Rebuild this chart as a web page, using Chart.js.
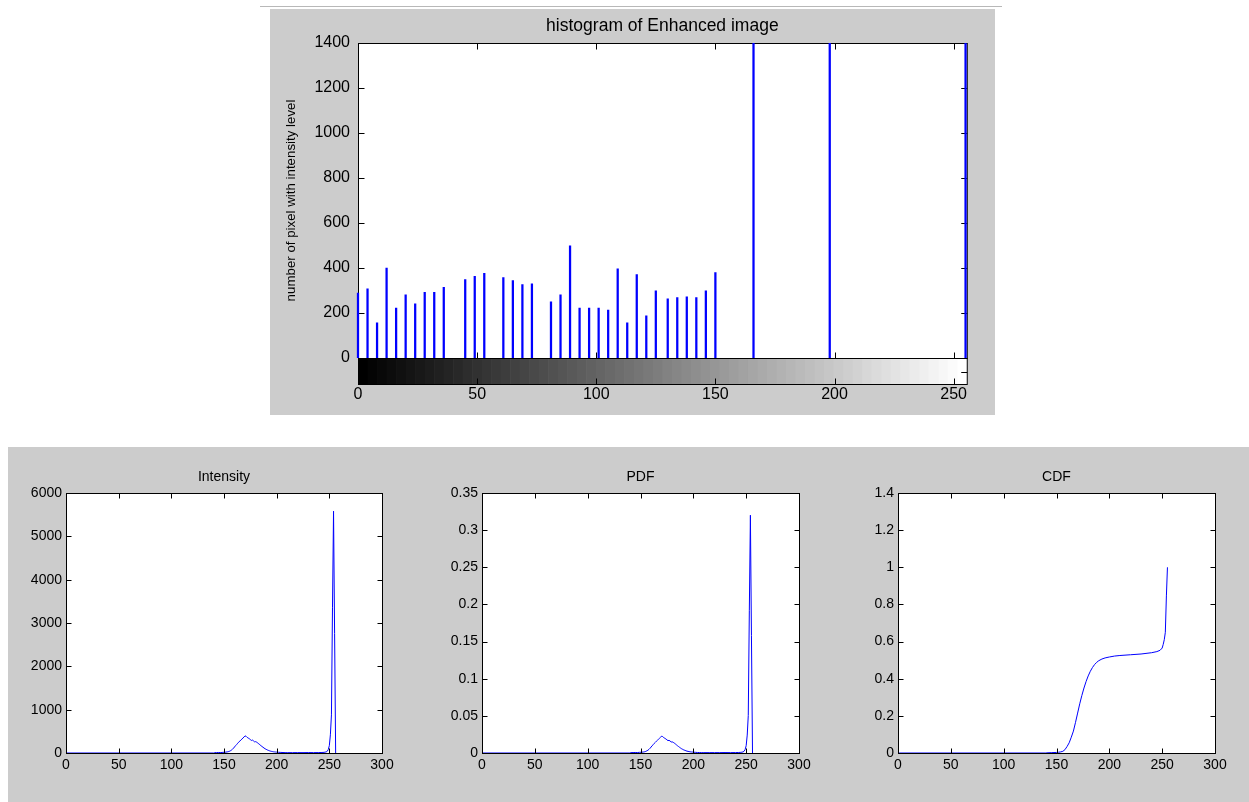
<!DOCTYPE html>
<html><head><meta charset="utf-8">
<script src="https://cdn.jsdelivr.net/npm/chart.js@4.4.1/dist/chart.umd.min.js"></script>
<style>
html,body{margin:0;padding:0;background:#fff;width:1249px;height:802px;overflow:hidden;position:relative}
.panel{position:absolute;background:#cccccc}
.topline{position:absolute;left:260px;top:6px;width:742px;height:1px;background:#b8b8b8}
canvas{position:absolute}
</style></head><body>
<div class="topline"></div>
<div class="panel" style="left:270px;top:9px;width:725px;height:406px"></div>
<div class="panel" style="left:8px;top:447px;width:1241px;height:355px"></div>
<canvas id="cHist"></canvas>
<canvas id="cInt"></canvas>
<canvas id="cPdf"></canvas>
<canvas id="cCdf"></canvas>
<script>
// ---------- data ----------
const histLevels = [0,4,8,12,16,20,24,28,32,36,45,49,53,61,65,69,73,81,85,89,93,97,101,105,109,113,117,121,125,130,134,138,142,146,150,166,198,255];
const histCounts = [288,307,156,400,222,281,241,292,292,314,348,363,376,357,344,326,330,250,281,499,222,222,222,213,396,156,371,187,299,263,268,272,268,299,380,2600,2400,3500];
const histXTicks = [0,50,100,150,200,250];
const histYTicks = [0,200,400,600,800,1000,1200,1400];

const grayLevels = [0,140,141,143,145,147,149,151,153,
  154,155,156,157,158,159,160,161,162,163,
  164,165,166,167,168,169,170,171,172,173,
  174,175,176,177,178,179,180,181,182,183,
  184,185,186,187,188,189,190,191,192,193,
  194,195,196,197,198,199,200,
  202,204,206,208,210,
  215,220,225,230,235,240,
  243,245,
  246,247,248,249,250,251,252,253,254,255,256];
const intensityCounts = [0,0,8,10,12,10,15,18,25,
  30,38,50,65,85,110,140,170,195,225,
  250,275,300,320,345,370,395,385,360,345,
  330,310,290,298,280,258,262,250,232,212,
  192,170,152,133,115,98,85,72,62,52,
  44,38,33,28,25,22,20,
  16,13,11,9,8,
  8,9,8,10,9,10,
  12,15,
  20,25,40,80,170,420,880,3350,5580,2760,0];
const pdfValues = [0,0,0.0005,0.0006,0.0007,0.0006,0.0009,0.001,0.0014,
  0.0017,0.0022,0.0029,0.0037,0.0049,0.0063,0.008,0.0098,0.0112,0.0129,
  0.0143,0.0158,0.0172,0.0184,0.0198,0.0212,0.0227,0.0221,0.0207,0.0198,
  0.0189,0.0178,0.0166,0.0171,0.0161,0.0148,0.015,0.0143,0.0133,0.0122,
  0.011,0.0098,0.0087,0.0076,0.0066,0.0056,0.0049,0.0041,0.0036,0.003,
  0.0025,0.0022,0.0019,0.0016,0.0014,0.0013,0.0011,
  0.0009,0.0007,0.0006,0.0005,0.0005,
  0.0005,0.0005,0.0005,0.0006,0.0005,0.0006,
  0.0007,0.0009,
  0.0011,0.0014,0.0023,0.0046,0.0098,0.0241,0.0505,0.1922,0.3201,0.1583,0];
const cdfLevels = [0,140,141,145,150,152,154,156,158,160,162,164,166,168,170,172,174,176,178,180,182,184,186,188,190,193,196,200,205,210,220,230,240,245,248,250,251,252,253,254,255];
const cdfValues = [0,0,0.001,0.002,0.003,0.004,0.006,0.009,0.018,0.035,0.055,0.085,0.118,0.165,0.215,0.265,0.31,0.35,0.385,0.415,0.44,0.46,0.476,0.488,0.497,0.506,0.512,0.517,0.522,0.525,0.529,0.533,0.54,0.546,0.553,0.565,0.585,0.61,0.65,0.846,1.0];

const xTicks300 = [0,50,100,150,200,250,300];
const intensityYTicks = [0,1000,2000,3000,4000,5000,6000];
const pdfYTicks = [0,0.05,0.1,0.15,0.2,0.25,0.3,0.35];
const cdfYTicks = [0,0.2,0.4,0.6,0.8,1,1.2,1.4];

const FONT = "'Liberation Sans', Arial, Helvetica, sans-serif";
const BLUE = '#0000ff';

function fmt(v){ return String(Math.round(v*10000)/10000); }

// ---------- MATLAB-like box, inward ticks, colorbar ----------
function drawBox(chart, opts){
  const {ctx, chartArea:a, scales:{x, y}} = chart;
  const L = a.left + 0.5, R = a.right + 0.5, T = a.top + 0.5, B = a.bottom + 0.5;
  const len = opts.tickLen || 5;
  ctx.save();
  ctx.strokeStyle = '#000'; ctx.lineWidth = 1;
  ctx.strokeRect(L, T, R - L, B - T);
  ctx.beginPath();
  x.ticks.forEach(t => {
    const px = Math.round(x.getPixelForValue(t.value)) + 0.5;
    ctx.moveTo(px, B); ctx.lineTo(px, B - len);
    ctx.moveTo(px, T); ctx.lineTo(px, T + len);
  });
  y.ticks.forEach(t => {
    const py = Math.round(y.getPixelForValue(t.value)) + 0.5;
    ctx.moveTo(L, py); ctx.lineTo(L + len, py);
    ctx.moveTo(R, py); ctx.lineTo(R - len, py);
  });
  ctx.stroke();
  if (opts.colorbar) {
    const h = opts.colorbar;
    const n = 64;
    for (let k = 0; k < n; k++) {
      const x0 = x.getPixelForValue(x.min + (x.max - x.min) * k / n);
      const x1 = x.getPixelForValue(x.min + (x.max - x.min) * (k + 1) / n);
      const g = Math.round(255 * k / (n - 1));
      ctx.fillStyle = `rgb(${g},${g},${g})`;
      ctx.fillRect(x0, a.bottom + 1, x1 - x0 + 0.6, h);
    }
    const CB = a.bottom + h + 0.5;
    ctx.strokeRect(L, B, R - L, CB - B);
    ctx.beginPath();
    x.ticks.forEach(t => {
      const px = Math.round(x.getPixelForValue(t.value)) + 0.5;
      ctx.moveTo(px, CB); ctx.lineTo(px, CB - len);
    });
    const my = Math.round((B + CB) / 2) + 0.5;
    ctx.moveTo(R, my); ctx.lineTo(R - len, my);
    ctx.stroke();
  }
  ctx.restore();
}
const matlabAxes = {
  id: 'matlabAxes',
  beforeDraw(chart){
    const {ctx, chartArea:a} = chart;
    ctx.save(); ctx.fillStyle = '#ffffff';
    ctx.fillRect(a.left, a.top, a.right - a.left, a.bottom - a.top);
    ctx.restore();
  },
  beforeDatasetsDraw(chart, args, opts){ if (opts.boxUnder) drawBox(chart, opts); },
  afterDatasetsDraw(chart, args, opts){ if (!opts.boxUnder) drawBox(chart, opts); }
};

// ---------- builder ----------
function build(id, cfg){
  const c = cfg.canvas, p = cfg.plot;
  const el = document.getElementById(id);
  el.width = c.R - c.L; el.height = c.B - c.T;
  el.style.left = c.L + 'px'; el.style.top = c.T + 'px';
  const tLH = cfg.titleSize * 1.2, kLH = cfg.tickSize * 1.2;
  const tPadTop = cfg.titleMid - c.T - tLH / 2;
  const tPadBot = p.T - c.T - tPadTop - tLH;
  const tickFont = {family: FONT, size: cfg.tickSize};
  return new Chart(el, {
    type: cfg.type,
    data: {datasets: [cfg.dataset]},
    options: {
      responsive: false, animation: false, events: [],
      layout: {padding: {left: 0, right: c.R - p.R, top: 0, bottom: 0}},
      plugins: {
        legend: {display: false}, tooltip: {enabled: false},
        title: {display: true, text: cfg.title, fullSize: false, color: '#000',
          font: {family: FONT, size: cfg.titleSize, weight: 'normal'},
          padding: {top: tPadTop, bottom: tPadBot}},
        matlabAxes: {colorbar: cfg.colorbar || 0, tickLen: cfg.tickLen, boxUnder: !!cfg.boxUnder}
      },
      scales: {
        x: {type: 'linear', min: cfg.xMin, max: cfg.xMax, offset: false,
          grid: {display: false, drawTicks: false}, border: {display: false},
          afterBuildTicks: s => { s.ticks = cfg.xTicks.map(v => ({value: v})); },
          afterFit: s => { s.height = c.B - p.B; },
          ticks: {padding: cfg.xLabelMid - p.B - kLH / 2, maxRotation: 0, autoSkip: false,
            color: '#000', font: tickFont, callback: v => fmt(v)}},
        y: {type: 'linear', min: cfg.yMin, max: cfg.yMax,
          grid: {display: false, drawTicks: false}, border: {display: false},
          afterBuildTicks: s => { s.ticks = cfg.yTicks.map(v => ({value: v})); },
          afterFit: s => { s.width = p.L - c.L; },
          title: cfg.yTitle ? {display: true, text: cfg.yTitle, color: '#000',
            font: {family: FONT, size: cfg.yTitleSize}, padding: {top: cfg.yTitlePad, bottom: 0}} : {display: false},
          ticks: {padding: cfg.yPad, autoSkip: false, color: '#000', font: tickFont, callback: v => fmt(v)}}
      }
    },
    plugins: [matlabAxes]
  });
}

function pts(xs, ys){ return xs.map((v, i) => ({x: v, y: ys[i]})); }
function lineSet(xs, ys){
  return {type: 'line', data: pts(xs, ys), borderColor: BLUE, borderWidth: 1,
    pointRadius: 0, tension: 0, fill: false};
}

// top histogram
build('cHist', {
  type: 'bar',
  canvas: {L: 270, T: 9, R: 995, B: 415}, plot: {L: 358, T: 43, R: 968, B: 358},
  title: 'histogram of Enhanced image', titleSize: 17.5, titleMid: 26.5,
  tickSize: 16, xLabelMid: 395, yPad: 8, tickLen: 6, boxUnder: true,
  xMin: 0, xMax: 255.5, yMin: 0, yMax: 1400, xTicks: histXTicks, yTicks: histYTicks,
  yTitle: 'number of pixel with intensity level', yTitleSize: 13.3, yTitlePad: 13.5,
  colorbar: 26,
  dataset: {data: pts(histLevels, histCounts), backgroundColor: BLUE, borderWidth: 0, barThickness: 1.6,
    clip: {left: 2, right: 2, top: 0, bottom: 0}}
});

const bottomCommon = {titleSize: 14, titleMid: 477, tickSize: 14, xLabelMid: 765, yPad: 4, tickLen: 5,
  xMin: 0, xMax: 300, xTicks: xTicks300};

build('cInt', Object.assign({}, bottomCommon, {
  type: 'line',
  canvas: {L: 8, T: 447, R: 418, B: 802}, plot: {L: 66, T: 493, R: 382, B: 753},
  title: 'Intensity', yMin: 0, yMax: 6000, yTicks: intensityYTicks,
  dataset: lineSet(grayLevels, intensityCounts)
}));
build('cPdf', Object.assign({}, bottomCommon, {
  type: 'line',
  canvas: {L: 418, T: 447, R: 835, B: 802}, plot: {L: 482, T: 493, R: 799, B: 753},
  title: 'PDF', yMin: 0, yMax: 0.35, yTicks: pdfYTicks,
  dataset: lineSet(grayLevels, pdfValues)
}));
build('cCdf', Object.assign({}, bottomCommon, {
  type: 'line',
  canvas: {L: 835, T: 447, R: 1249, B: 802}, plot: {L: 898, T: 493, R: 1215, B: 753},
  title: 'CDF', yMin: 0, yMax: 1.4, yTicks: cdfYTicks,
  dataset: lineSet(cdfLevels, cdfValues)
}));
</script>
</body></html>
